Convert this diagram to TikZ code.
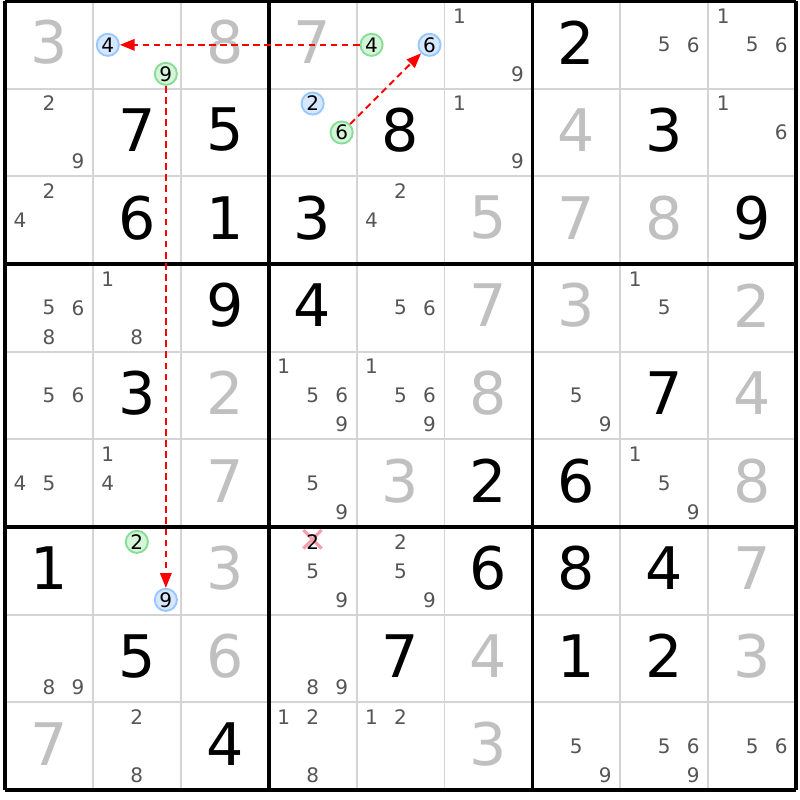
\documentclass[tikz,border=0pt]{standalone}
\usepackage{fontspec}
\setmainfont{DejaVu Sans}
\usetikzlibrary{arrows.meta}
\definecolor{thingrid}{RGB}{212,212,212}
\definecolor{candcol}{RGB}{85,85,85}
\definecolor{fixedcol}{RGB}{192,192,192}
\definecolor{bluefill}{RGB}{214,232,255}
\definecolor{bluedraw}{RGB}{150,200,255}
\definecolor{greenfill}{RGB}{212,245,216}
\definecolor{greendraw}{RGB}{135,220,150}
\definecolor{crosscol}{RGB}{245,160,170}
\definecolor{arrowred}{RGB}{255,0,0}
\newcommand\cellx[1]{5+87.9*(#1-0.5)}
\newcommand\celly[1]{1+87.67*(#1-0.5)}
\newcommand\gv[4]{\node[#4] (g#1#2) at ({\cellx{#2}},{\celly{#1}-2.5}) {#3};}
\newcommand\cd[4][candst]{\node[#1] (c#2#3#4) at ({\cellx{#3}+(mod(#4-1,3)-1)*29},{\celly{#2}+(floor((#4-1)/3)-1)*29}) {#4};}
\newcommand\cds[3]{\foreach \dd in {#3} {\cd{#1}{#2}{\dd}}}
\tikzset{
  givenst/.style={font=\fontsize{44}{44}\selectfont, text=black, inner sep=0pt},
  fixedst/.style={givenst, text=fixedcol},
  candst/.style={font=\fontsize{15}{15}\selectfont, text=candcol, inner sep=0pt},
  circst/.style={circle, line width=1.4pt, minimum size=16.6pt, inner sep=0pt, font=\fontsize{15}{15}\selectfont, text=black},
  bluec/.style={circst, draw=bluedraw, fill=bluefill},
  greenc/.style={circst, draw=greendraw, fill=greenfill},
  thinline/.style={draw=thingrid, line width=1.4pt},
  thickline/.style={draw=black, line width=2.7pt},
  crossst/.style={draw=crosscol, line width=2.4pt},
  chainst/.style={draw=arrowred, line width=1.5pt, dash pattern=on 5pt off 3.3pt, -{Triangle[length=11pt,width=8.5pt]}}
}
\begin{document}
\begin{tikzpicture}[x=0.75pt,y=-0.75pt]
\useasboundingbox (0,0) rectangle (800,800);
\fill[white] (0,0) rectangle (800,800);
% grid
\foreach \i in {0,...,9} {
  \draw[thinline] ({5+87.9*\i},1) -- ({5+87.9*\i},790);
  \draw[thinline] (5,{1+87.67*\i}) -- (796,{1+87.67*\i});
}
\foreach \i in {0,3,6,9} {
  \draw[thickline] ({5+87.9*\i},1) -- ({5+87.9*\i},790);
  \draw[thickline] (5,{1+87.67*\i}) -- (796,{1+87.67*\i});
}
% givens
\gv{1}{1}{3}{fixedst} \gv{1}{3}{8}{fixedst} \gv{1}{4}{7}{fixedst} \gv{1}{7}{2}{givenst}
\gv{2}{2}{7}{givenst} \gv{2}{3}{5}{givenst} \gv{2}{5}{8}{givenst} \gv{2}{7}{4}{fixedst} \gv{2}{8}{3}{givenst}
\gv{3}{2}{6}{givenst} \gv{3}{3}{1}{givenst} \gv{3}{4}{3}{givenst} \gv{3}{6}{5}{fixedst} \gv{3}{7}{7}{fixedst} \gv{3}{8}{8}{fixedst} \gv{3}{9}{9}{givenst}
\gv{4}{3}{9}{givenst} \gv{4}{4}{4}{givenst} \gv{4}{6}{7}{fixedst} \gv{4}{7}{3}{fixedst} \gv{4}{9}{2}{fixedst}
\gv{5}{2}{3}{givenst} \gv{5}{3}{2}{fixedst} \gv{5}{6}{8}{fixedst} \gv{5}{8}{7}{givenst} \gv{5}{9}{4}{fixedst}
\gv{6}{3}{7}{fixedst} \gv{6}{5}{3}{fixedst} \gv{6}{6}{2}{givenst} \gv{6}{7}{6}{givenst} \gv{6}{9}{8}{fixedst}
\gv{7}{1}{1}{givenst} \gv{7}{3}{3}{fixedst} \gv{7}{6}{6}{givenst} \gv{7}{7}{8}{givenst} \gv{7}{8}{4}{givenst} \gv{7}{9}{7}{fixedst}
\gv{8}{2}{5}{givenst} \gv{8}{3}{6}{fixedst} \gv{8}{5}{7}{givenst} \gv{8}{6}{4}{fixedst} \gv{8}{7}{1}{givenst} \gv{8}{8}{2}{givenst} \gv{8}{9}{3}{fixedst}
\gv{9}{1}{7}{fixedst} \gv{9}{3}{4}{givenst} \gv{9}{6}{3}{fixedst}
% cross mark under eliminated candidate
\draw[crossst] (303.5,530) -- (321.5,548.5);
\draw[crossst] (321.5,530) -- (303.5,548.5);
% candidates
\cds{1}{6}{1,9} \cds{1}{8}{5,6} \cds{1}{9}{1,5,6}
\cds{2}{1}{2,9} \cds{2}{6}{1,9} \cds{2}{9}{1,6}
\cds{3}{1}{2,4} \cds{3}{5}{2,4}
\cds{4}{1}{5,6,8} \cds{4}{2}{1,8} \cds{4}{5}{5,6} \cds{4}{8}{1,5}
\cds{5}{1}{5,6} \cds{5}{4}{1,5,6,9} \cds{5}{5}{1,5,6,9} \cds{5}{7}{5,9}
\cds{6}{1}{4,5} \cds{6}{2}{1,4} \cds{6}{4}{5,9} \cds{6}{8}{1,5,9}
\cd[candst,text=black]{7}{4}{2} \cds{7}{4}{5,9} \cds{7}{5}{2,5,9}
\cds{8}{1}{8,9} \cds{8}{4}{8,9}
\cds{9}{2}{2,8} \cds{9}{4}{1,2,8} \cds{9}{5}{1,2} \cds{9}{7}{5,9} \cds{9}{8}{5,6,9} \cds{9}{9}{5,6}
% circled candidates
\cd[bluec]{1}{2}{4} \cd[greenc]{1}{2}{9}
\cd[greenc]{1}{5}{4} \cd[bluec]{1}{5}{6}
\cd[bluec]{2}{4}{2} \cd[greenc]{2}{4}{6}
\cd[greenc]{7}{2}{2} \cd[bluec]{7}{2}{9}
% chains
\draw[chainst] (c154) -- (c124);
\draw[chainst] (c246) -- (c156);
\draw[chainst] (c129) -- (c729);
\end{tikzpicture}
\end{document}
